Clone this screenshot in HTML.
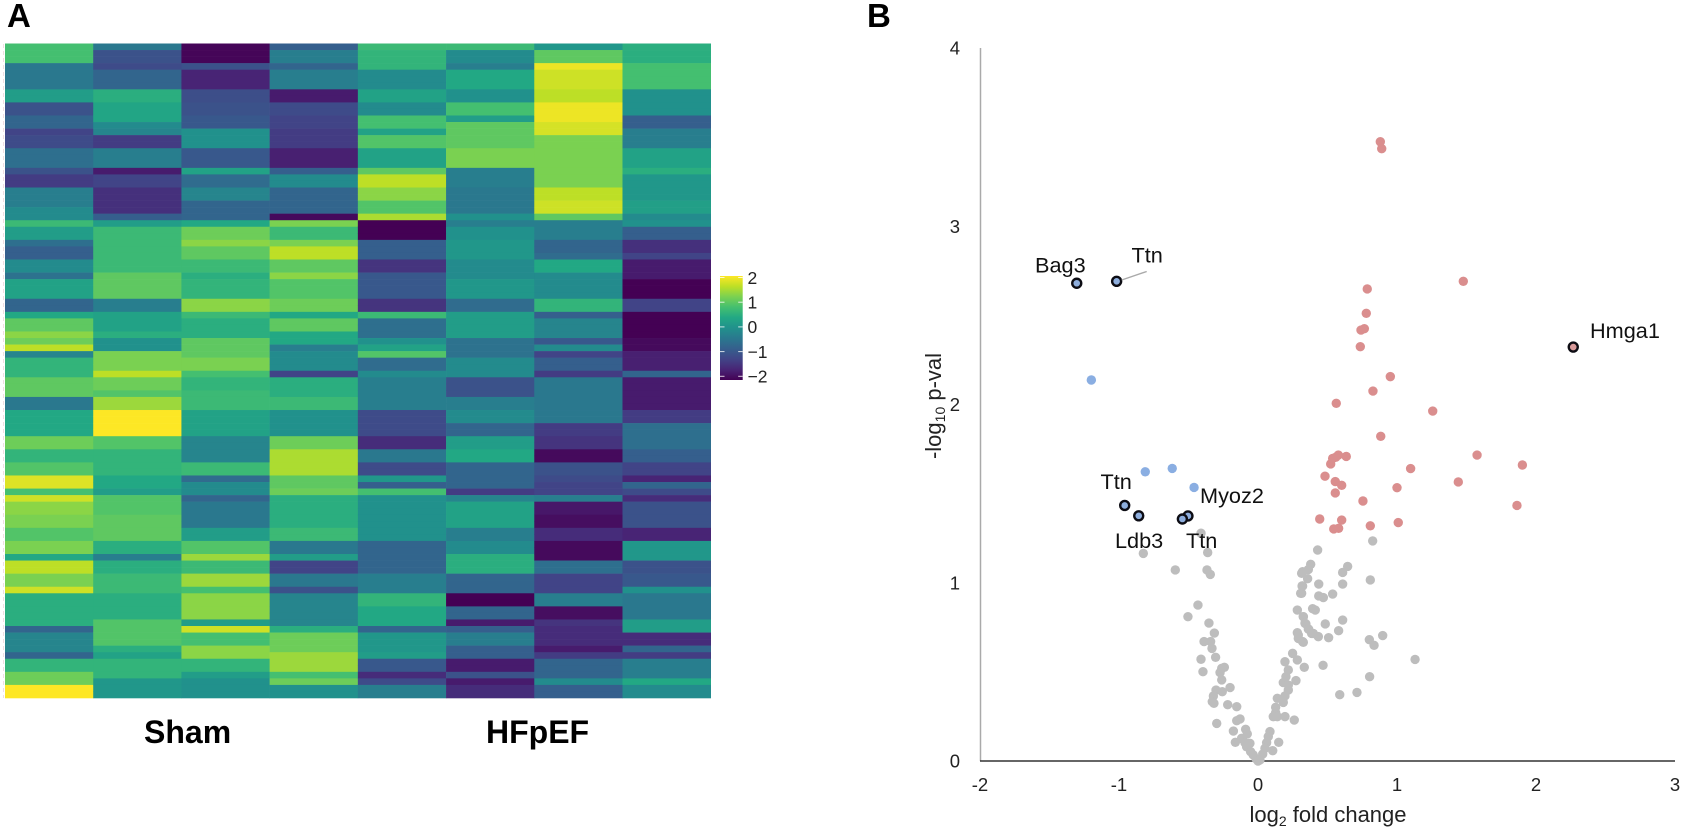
<!DOCTYPE html>
<html lang="en">
<head>
<meta charset="utf-8">
<title>Heatmap and volcano plot</title>
<style>
html,body{margin:0;padding:0;background:#fff;width:1683px;height:830px;overflow:hidden}
svg{display:block;font-family:"Liberation Sans",Arial,sans-serif}
</style>
</head>
<body>
<svg id="figure" xmlns="http://www.w3.org/2000/svg" width="1683" height="830" viewBox="0 0 1683 830">
  <rect width="1683" height="830" fill="#fff"/>
  <text x="7" y="27" font-size="33" font-weight="700" fill="#000">A</text>
  <text x="867" y="27" font-size="33" font-weight="700" fill="#000">B</text>

  <line x1="3.5" y1="44" x2="3.5" y2="698" stroke="#f0dfe3" stroke-width="1" stroke-dasharray="4 3"/>
  <g id="heatmap"></g>
  <text x="144" y="743" font-size="32" font-weight="700" fill="#000">Sham</text>
  <text x="486" y="743" font-size="32" font-weight="700" fill="#000">HFpEF</text>

  <defs>
    <linearGradient id="viridis-gradient" x1="0" y1="1" x2="0" y2="0"></linearGradient>
  </defs>
  <g id="colorbar"></g>

  <g id="volcano">
    <line x1="980.5" y1="48" x2="980.5" y2="761" stroke="#aaa" stroke-width="1.5"/>
    <line x1="980" y1="761" x2="1675" y2="761" stroke="#333" stroke-width="1.6"/>
    <g id="volcano-ticks"></g>
    <text x="1328" y="822" font-size="22" text-anchor="middle" fill="#222">log<tspan font-size="14" dy="4">2</tspan><tspan dy="-4"> fold change</tspan></text>
    <text transform="translate(941,406) rotate(-90)" font-size="22" text-anchor="middle" fill="#222">-log<tspan font-size="14" dy="4">10</tspan><tspan dy="-4"> p-val</tspan></text>
    <g id="volcano-points"></g>
    <line x1="1121.7" y1="280" x2="1146.7" y2="271.5" stroke="#aaa" stroke-width="1.4"/>
    <g font-size="21.7" fill="#111">
      <text x="1035" y="272.5">Bag3</text>
      <text x="1131.5" y="262.5">Ttn</text>
      <text x="1590" y="338">Hmga1</text>
      <text x="1100.5" y="489">Ttn</text>
      <text x="1200" y="503">Myoz2</text>
      <text x="1115" y="548">Ldb3</text>
      <text x="1186" y="548">Ttn</text>
    </g>
  </g>
</svg>

<script>
/* ---------- Heatmap data: one array per sample, 100 genes each ---------- */
const sampleNames = ['sham-1','sham-2','sham-3','sham-4','hfpef-1','hfpef-2','hfpef-3','hfpef-4'];
const sham1 = [
 .8,.8,.8,-.4,-.4,-.4,-.4,.2,.2,-1,
 -1,-.7,-.7,-1.2,-1.1,-1.1,-.55,-.55,-.55,-1,
 -1.3,-1.3,-.3,-.3,-.3,-.1,-.1,.7,.2,.2,
 -.55,-.8,-.8,-.1,-.1,-.5,.3,.3,.3,-.7,
 -.7,.4,1,1,1.3,1.1,1.6,-.2,.6,.6,
 .6,1,1,1,-.4,-.4,.4,.4,.4,.4,
 1.1,1.1,.6,.6,.9,.9,1.8,1.8,.8,1.7,
 1.3,1.3,1.2,1.2,.9,.9,1.2,1.2,.4,1.6,
 1.6,1.2,1.2,1.7,.5,.5,.5,.5,.5,-.7,
 -.2,-.2,-.2,-.7,.6,.6,1.1,1.1,2,2];
const sham2 = [
 -.4,-1,-1,-1.1,-.7,-.7,-.7,.5,.5,.35,
 .35,.35,-.1,-.2,-1.3,-1.3,-.3,-.3,-.3,-1.7,
 -1.2,-1.2,-1.45,-1.45,-1.45,-1.45,-.8,.2,.7,.7,
 .7,.7,.7,.7,.7,1,1,1,1,-.3,
 -.3,.3,.3,.3,.5,0,0,1.2,1.2,1.2,
 1.6,1.1,1.1,.9,1.4,1.4,2,2,2,2,
 .9,.9,.6,.6,.6,.6,.4,.4,.2,.9,
 .9,.9,1,1,1,1,.5,.5,-.3,.5,
 .5,.7,.7,.7,.5,.5,.5,.5,.9,.9,
 .9,.9,.5,.3,.6,.6,.6,.1,.1,.1];
const sham3 = [
 -1.95,-1.95,-1.95,-1,-1.6,-1.6,-1.6,-1.05,-1.05,-1,
 -1,-.9,-.9,0,0,0,-.9,-.9,-.9,.3,
 -.6,-.6,-.2,-.2,-.7,-.7,-.7,.4,1.1,1.1,
 1.3,1,1,.7,.7,.5,.6,.6,.6,1.3,
 1.3,.7,.5,.5,.5,1,1,1,1.2,1.2,
 .8,.6,.6,.7,.7,.7,.3,.3,.3,.3,
 -.2,-.2,-.2,-.2,.7,.7,-.6,-.1,-.1,-.7,
 -.4,-.4,-.4,-.4,.2,.2,.9,.9,1.4,.7,
 .7,1.4,1.4,.8,1.3,1.3,1.3,1.3,.2,1.7,
 .8,.8,1.3,1.3,.6,.6,.2,0,0,0];
const sham4 = [
 -.8,-.3,-.3,-.7,-.3,-.3,-.3,-1.7,-1.7,-1.1,
 -1.1,-1.2,-1.2,-1.3,-1.3,-1.3,-1.65,-1.65,-1.65,-.8,
 -.1,-.1,-.7,-.7,-.7,-.7,-1.9,1.2,.7,.7,
 1.2,1.6,1.6,1,1,1.3,.9,.9,.9,1.1,
 1.1,.4,1,1,.4,.4,-.3,-.1,-.1,-.1,
 -1.2,.5,.5,.5,.7,.7,0,0,0,0,
 1.1,1.1,1.5,1.5,1.5,1.5,1,1,1.1,.5,
 .5,.5,.5,.5,.7,.7,-.4,-.4,.2,-1.2,
 -1.2,-.4,-.4,-1,-.2,-.2,-.2,-.2,-.2,.5,
 1.1,1.1,1.1,1.4,1.4,1.4,.8,1.1,0,0];
const hfpef1 = [
 .7,.6,.6,.6,-.1,-.1,-.1,.3,.3,-.1,
 -.1,.8,.8,.3,.9,.9,.3,.3,.3,1,
 1.6,1.6,1.3,1.3,.9,.9,1.5,-2,-2,-2,
 -.8,-.8,-.8,-1.4,-1.4,-.9,-.9,-.9,-.9,-1.4,
 -1.4,.7,-.55,-.55,-.55,0,.3,.9,-.6,-.6,
 -.1,-.3,-.3,-.3,-.3,-.3,-1.1,-1.1,-1.1,-1.1,
 -1.5,-1.5,-.4,-.4,-1.1,-1.1,.1,-.8,.8,0,
 0,0,0,0,0,0,-.7,-.7,-.7,-.7,
 -.7,-.3,-.3,-.3,.6,.6,.4,.4,.4,-.7,
 .1,.1,.1,.2,-.9,-.9,-1.5,-1.1,-.3,-.3];
const hfpef2 = [
 .7,-.1,-.1,-.3,.4,.4,.4,0,0,.8,
 .8,.2,1,1,1,1,1.2,1.2,1.2,-.3,
 -.3,-.3,-.4,-.4,-.4,-.4,0,-.3,0,0,
 .1,.1,.1,-.1,-.1,-.1,.1,.1,.1,-.6,
 -.6,.2,.2,.2,.2,-.5,-.5,-.5,-.1,-.1,
 -.1,-1,-1,-1,-.3,-.3,-.1,-.1,-.7,-.7,
 .2,.2,.4,.4,-.7,-.7,-.7,-.7,-1.3,-.2,
 .3,.3,.3,.3,-.3,-.3,-.1,-.1,.5,.5,
 .5,-.7,-.7,-.7,-2,-2,-.7,-.7,-1.7,-.8,
 -.3,-.3,-.8,-.8,-1.7,-1.7,-1,-1.7,-1.5,-1.5];
const hfpef3 = [
 .1,1,1,1.9,1.7,1.7,1.7,1.6,1.6,1.9,
 1.9,1.9,1.75,1.75,1.2,1.2,1.2,1.2,1.2,1.2,
 1.2,1.2,1.6,1.6,1.7,1.7,1,-.3,-.3,-.3,
 -.7,-.7,-.6,.4,.4,-.1,-.1,-.1,-.1,.6,
 .6,-.8,-.2,-.2,-.2,-.9,-.1,-1.2,-.8,-.8,
 -1.3,-.4,-.4,-.4,-.4,-.4,-.4,-.4,-1.3,-1.3,
 -1.4,-1.4,-1.9,-1.9,-1,-1,-1.1,-1.2,-1.2,-.3,
 -1.75,-1.75,-1.85,-1.85,-1.5,-1.5,-1.9,-1.9,-1.9,-.55,
 -.55,-1.2,-1.2,-1.2,-.3,-.3,-1.85,-1.85,-1.4,-1.5,
 -1.5,-1.5,-1.7,-1.3,-.7,-.7,-.7,-.1,-.8,-.8];
const hfpef4 = [
 .5,.5,.5,.8,.8,.8,.8,0,0,0,
 0,-.8,-.8,-.3,-.3,-.3,.3,.3,.3,.5,
 .1,.1,.1,.1,.25,.25,-.1,0,-.8,-.8,
 -1.45,-1.45,-1.2,-1.7,-1.7,-1.7,-2,-2,-2,-1.2,
 -1.2,-2,-2,-2,-2,-1.9,-1.9,-1.65,-1.65,-1.65,
 -.7,-1.7,-1.7,-1.7,-1.7,-1.7,-1.3,-1.3,-.55,-.55,
 -.55,-.55,-.8,-.8,-1.2,-1.2,-1.6,-.7,-1.1,-1.5,
 -1,-1,-1,-1,-1.6,-1.6,.1,.1,.1,-1,
 -1,-.9,-.9,0,-.4,-.4,-.4,-.4,.2,.2,
 -1.5,-1.5,-.7,-1.3,-.3,-.3,-.3,.4,-.1,-.1];
const colorbarTicks = [2,1,0,-1,-2];
const colorbarLabels = ['2','1','0','\u22121','\u22122'];

/* ---------- Volcano data: log2 fold change / -log10 p ---------- */
const xTicks = [-2,-1,0,1,2,3];
const yTicks = [0,1,2,3,4];
const grayX = [-.41,.429,.825,-.825,-.362,-.595,-.367,-.343,.379,.321,.362,.645,.609,.357,.808,.437,.609,.321,.314,.437,.47,.537,.393,.412,.326,.484,.609,.345,.365,.58,.386,.434,.508,.801,.897,.835,.321,1.13,
 -.432,-.504,-.353,-.314,-.388,-.341,-.331,-.305,-.41,-.242,-.261,-.396,-.273,-.261,-.201,-.302,-.257,-.321,-.329,-.317,-.218,-.153,-.129,-.153,-.297,-.177,-.089,-.077,-.118,-.163,-.094,-.058,-.082,-.053,-.034,-.014,0,.014,
 .086,.074,.149,.062,.05,.106,.034,.261,.194,.127,.11,.139,.127,.182,.139,.194,.218,.273,.182,.201,.218,.218,.194,.283,.249,.333,.468,.588,.712,.803,.326,.29,.283,.283,.326,.338,.362,.398,.307,.317,.314,.29];
const grayY = [1.278,1.184,1.235,1.165,1.17,1.072,1.072,1.047,1.104,1.062,1.074,1.092,1.058,1.023,1.016,.993,.993,.982,.941,.926,.917,.937,.855,.847,.81,.769,.791,.769,.739,.731,.716,.698,.692,.681,.704,.649,.67,.57,
 .875,.81,.774,.718,.67,.67,.632,.582,.571,.526,.52,.501,.496,.455,.412,.398,.389,.365,.333,.324,.316,.305,.236,.226,.211,.168,.178,.152,.127,.105,.103,.099,.08,.052,.034,.013,0,.006,
 .165,.137,.105,.103,.071,.058,.039,.23,.249,.271,.249,.249,.301,.329,.352,.365,.398,.451,.44,.473,.426,.511,.557,.567,.604,.526,.537,.372,.385,.473,.666,.688,.72,.847,.81,.773,.741,.716,.941,.982,1.053,.707];
const redX = [.88,.89,1.477,.786,.779,.765,.741,.736,.952,.827,.563,1.257,.883,.578,.537,.635,.523,.56,1.576,1.902,1.098,.482,.556,.602,1.441,1,.556,.755,1.863,.444,.602,1.009,.808,.58,.545];
const redY = [3.475,3.436,2.692,2.649,2.512,2.426,2.418,2.325,2.157,2.076,2.007,1.964,1.822,1.717,1.698,1.709,1.667,1.705,1.717,1.661,1.641,1.598,1.568,1.547,1.566,1.534,1.504,1.459,1.434,1.358,1.352,1.338,1.32,1.306,1.302];
const blueX = [-.811,-.617,-.46,-1.199];
const blueY = [1.623,1.642,1.535,2.138];
const labelledBlueX = [-1.304,-1.017,-.959,-.858,-.504,-.544];
const labelledBlueY = [2.681,2.692,1.434,1.376,1.375,1.358];
const labelledRedX = [2.268];
const labelledRedY = [2.323];

/* ---------- Helpers ---------- */
const NS = 'http://www.w3.org/2000/svg';
const viridisStops = ['#440154','#482475','#414487','#355f8d','#2a788e','#21918c','#22a884','#44bf70','#7ad151','#bddf26','#fde725'];
function hexToRgb(h){return [parseInt(h.slice(1,3),16),parseInt(h.slice(3,5),16),parseInt(h.slice(5,7),16)];}
function viridis(v){
  const t = Math.max(0, Math.min(1, (v + 2) / 4)) * 10;
  const i = Math.min(9, Math.floor(t));
  const a = hexToRgb(viridisStops[i]), b = hexToRgb(viridisStops[i + 1]), f = t - i;
  return 'rgb(' + a.map((c, k) => Math.round(c + (b[k] - c) * f)).join(',') + ')';
}
function make(tag, attrs){
  const el = document.createElementNS(NS, tag);
  Object.keys(attrs).forEach(k => el.setAttribute(k, attrs[k]));
  return el;
}

/* ---------- Heatmap ---------- */
const heatmapSeries = [sham1, sham2, sham3, sham4, hfpef1, hfpef2, hfpef3, hfpef4];
const hmLeft = 5, hmRight = 710.7, hmTop = 43.5, hmBottom = 698;
function hmX(col){ return hmLeft + (hmRight - hmLeft) * col / heatmapSeries.length; }
function hmY(row){ return hmTop + (hmBottom - hmTop) * row / sham1.length; }
const heatmapGroup = document.getElementById('heatmap');
heatmapSeries.forEach((series, c) => {
  series.forEach((value, r) => {
    const cell = make('rect', {
      x: hmX(c), y: hmY(r),
      width: hmX(c + 1) - hmX(c) + 0.3,
      height: hmY(r + 1) - hmY(r) + 0.3,
      fill: viridis(value)
    });
    
    
    heatmapGroup.appendChild(cell);
  });
});

/* ---------- Colorbar ---------- */
const gradient = document.getElementById('viridis-gradient');
viridisStops.forEach((color, i) => {
  gradient.appendChild(make('stop', {offset: (i * 10) + '%', 'stop-color': color}));
});
function cbY(v){ return 326.9 - v * 24.7; }
const colorbarGroup = document.getElementById('colorbar');
const cbRect = make('rect', {x: 720, y: 276, width: 22.7, height: 104, fill: 'url(#viridis-gradient)'});


colorbarGroup.appendChild(cbRect);
colorbarTicks.forEach((tick, i) => {
  const left = make('line', {x1: 720, x2: 724.5, y1: cbY(tick), y2: cbY(tick), stroke: '#fff', 'stroke-opacity': .8, 'stroke-width': 1});
  
  
  colorbarGroup.appendChild(left);
  const right = make('line', {x1: 738.2, x2: 742.7, y1: cbY(tick), y2: cbY(tick), stroke: '#fff', 'stroke-opacity': .8, 'stroke-width': 1});
  
  
  colorbarGroup.appendChild(right);
  const label = make('text', {x: 747.5, y: cbY(tick) + 6.3, 'font-size': 17.5, fill: '#222'});
  
  
  label.textContent = colorbarLabels[i];
  colorbarGroup.appendChild(label);
});

/* ---------- Volcano ---------- */
function xScale(v){ return 1258 + v * 139; }
function yScale(v){ return 761 - v * 178.2; }
const tickGroup = document.getElementById('volcano-ticks');
xTicks.forEach(tick => {
  const label = make('text', {x: xScale(tick), y: 791, 'font-size': 18.5, 'text-anchor': 'middle', fill: '#222'});
  
  
  label.textContent = String(tick);
  tickGroup.appendChild(label);
});
yTicks.forEach(tick => {
  const label = make('text', {x: 960, y: yScale(tick) + 6.5, 'font-size': 18.5, 'text-anchor': 'end', fill: '#222'});
  
  
  label.textContent = String(tick);
  tickGroup.appendChild(label);
});
const pointGroup = document.getElementById('volcano-points');
function drawPoints(xs, ys, fill, name, outlined){
  xs.forEach((xv, i) => {
    const dot = make('circle', {
      cx: xScale(xv), cy: yScale(ys[i]),
      r: outlined ? 4.5 : 4.7,
      fill: fill,
      stroke: outlined ? '#0d0d14' : 'none',
      'stroke-width': outlined ? 2.4 : 0
    });
    
    
    pointGroup.appendChild(dot);
  });
}
drawPoints(grayX, grayY, '#bdbdbd', 'point-not-significant', false);
drawPoints(redX, redY, '#da8e8e', 'point-upregulated', false);
drawPoints(blueX, blueY, '#8aaee2', 'point-downregulated', false);
drawPoints(labelledBlueX, labelledBlueY, '#8eaedd', 'point-downregulated-labelled', true);
drawPoints(labelledRedX, labelledRedY, '#d99a9a', 'point-upregulated-labelled', true);
</script>
</body>
</html>
